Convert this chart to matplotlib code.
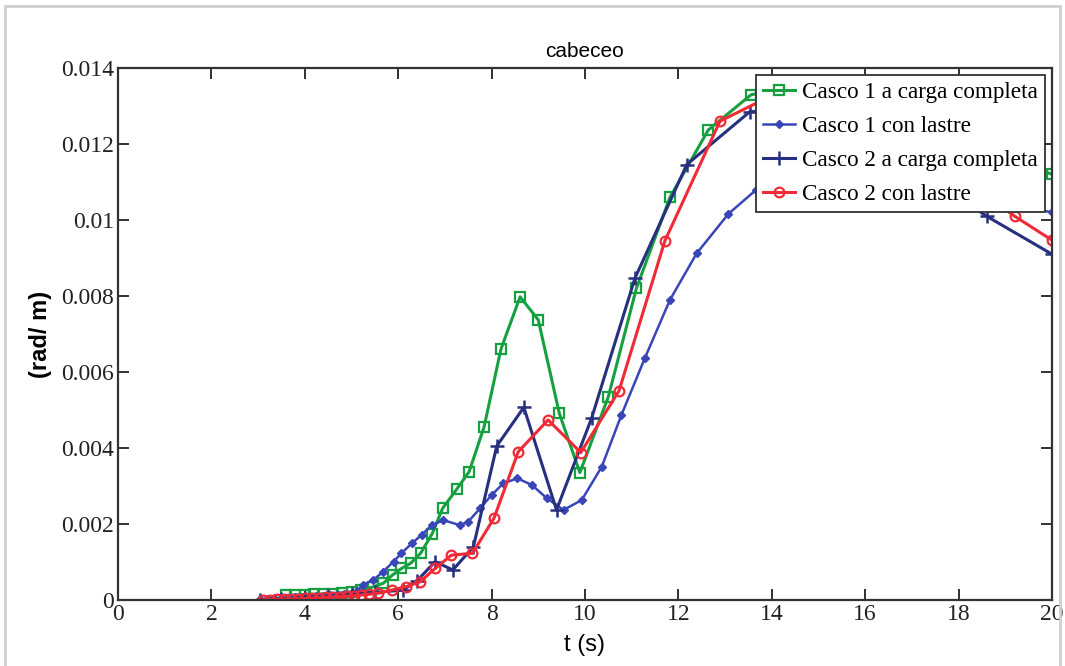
import numpy as np
import matplotlib
matplotlib.use('Agg')
import matplotlib.pyplot as plt
from matplotlib.patches import Rectangle

# Casco 1 a carga completa (green, squares)
t_c1_full = [3.6, 3.8, 4.0, 4.2, 4.4, 4.6, 4.8, 5.0, 5.2, 5.45, 5.68, 5.88, 6.07, 6.27, 6.48,
             6.73, 6.95, 7.25, 7.52, 7.84, 8.2, 8.61, 9.0, 9.45, 9.89, 10.5, 11.1, 11.82,
             12.64, 13.55, 14.5, 15.5, 16.6, 17.7, 18.8, 20.0]
v_c1_full = [0.00012, 0.00013, 0.00014, 0.00015, 0.00016, 0.00017, 0.00019, 0.00021, 0.00026,
             0.00034, 0.00044, 0.00066, 0.00083, 0.00097, 0.00123, 0.00175, 0.00241, 0.00291,
             0.00338, 0.00456, 0.0066, 0.00798, 0.00737, 0.00491, 0.00335, 0.00535, 0.0082,
             0.0106, 0.01237, 0.01329, 0.0136, 0.0135, 0.0131, 0.0125, 0.0118, 0.0112]

# Casco 1 con lastre (blue, small diamonds)
t_c1_last = [3.04, 3.2, 3.35, 3.5, 3.65, 3.8, 3.95, 4.1, 4.25, 4.4, 4.55, 4.7, 4.85, 5.0, 5.12,
             5.25, 5.47, 5.68, 5.9, 6.07, 6.29, 6.5, 6.72, 6.97, 7.32, 7.5, 7.75, 8.0, 8.25,
             8.55, 8.86, 9.18, 9.54, 9.93, 10.36, 10.78, 11.28, 11.82, 12.39, 13.07, 13.67,
             14.4, 15.3, 16.3, 17.3, 18.4, 19.2, 20.0]
v_c1_last = [0.00002, 0.00003, 0.00004, 0.00005, 0.00006, 0.00007, 0.00008, 0.00009, 0.0001,
             0.00011, 0.00012, 0.00014, 0.00016, 0.00019, 0.00024, 0.0004, 0.00053, 0.00075,
             0.00101, 0.00123, 0.00149, 0.00171, 0.00197, 0.0021, 0.00197, 0.00206, 0.00241,
             0.00276, 0.00307, 0.0032, 0.00303, 0.00268, 0.00237, 0.00263, 0.00351, 0.00487,
             0.00636, 0.0079, 0.00912, 0.01016, 0.0108, 0.0112, 0.0113, 0.0112, 0.011, 0.0106,
             0.0104, 0.0102]

# Casco 2 a carga completa (navy, plus)
t_c2_full = [3.04, 3.5, 4.0, 4.5, 5.0, 5.5, 6.1, 6.4, 6.79, 7.17, 7.61, 8.11, 8.69, 9.39,
             10.14, 11.07, 12.18, 13.53, 15.0, 16.8, 18.6, 20.0]
v_c2_full = [0.00001, 0.00003, 0.00006, 0.0001, 0.00015, 0.0002, 0.00026, 0.0005, 0.00101,
             0.00079, 0.0014, 0.00405, 0.00507, 0.00237, 0.00478, 0.00847, 0.01146, 0.01285,
             0.0129, 0.0116, 0.0101, 0.0091]

# Casco 2 con lastre (red, circles)
t_c2_last = [3.1, 3.25, 3.4, 3.55, 3.7, 3.85, 4.0, 4.15, 4.3, 4.45, 4.6, 4.75, 4.9, 5.05, 5.2,
             5.37, 5.57, 5.86, 6.16, 6.47, 6.79, 7.14, 7.59, 8.05, 8.57, 9.21, 9.91, 10.73,
             11.71, 12.89, 14.2, 15.6, 17.0, 18.4, 19.2, 20.0]
v_c2_last = [0.00001, 0.00001, 0.00002, 0.00002, 0.00003, 0.00003, 0.00004, 0.00005, 0.00006,
             0.00007, 0.00008, 0.00009, 0.0001, 0.00011, 0.00013, 0.00015, 0.00018, 0.00026,
             0.00035, 0.00048, 0.00083, 0.00118, 0.00123, 0.00215, 0.0039, 0.00474, 0.00388,
             0.00551, 0.00945, 0.0126, 0.0134, 0.0131, 0.0121, 0.0108, 0.0101, 0.00947]

labels = ['Casco 1 a carga completa', 'Casco 1 con lastre',
          'Casco 2 a carga completa', 'Casco 2 con lastre']
xticks = [0, 2, 4, 6, 8, 10, 12, 14, 16, 18, 20]
yticks = [0, 0.002, 0.004, 0.006, 0.008, 0.01, 0.012, 0.014]
ytick_labels = ['0', '0.002', '0.004', '0.006', '0.008', '0.01', '0.012', '0.014']

fig = plt.figure(figsize=(10.65, 6.66), dpi=100)
ax = fig.add_axes([118/1065, 1 - 600/666, (1052-118)/1065, (600-68)/666])

ax.plot(t_c1_full, v_c1_full, '-s', color='#16a040', lw=2.2, ms=7, mfc='none', mew=1.6, label=labels[0])
ax.plot(t_c1_last, v_c1_last, '-D', color='#3846b8', lw=1.8, ms=4, label=labels[1])
ax.plot(t_c2_full, v_c2_full, '-+', color='#27307e', lw=2.2, ms=10, mew=1.8, label=labels[2])
ax.plot(t_c2_last, v_c2_last, '-o', color='#f02a36', lw=2.2, ms=7, mfc='none', mew=1.6, label=labels[3])

ax.set_xlim(0, 20)
ax.set_ylim(0, 0.014)
ax.set_xticks(xticks)
ax.set_yticks(yticks)
ax.set_yticklabels(ytick_labels)
ax.tick_params(direction='in', length=8, width=1.3, top=True, right=True,
               labelsize=17, colors='#222222', pad=3)
for lab in ax.get_xticklabels() + ax.get_yticklabels():
    lab.set_family('Liberation Serif')
for sp in ax.spines.values():
    sp.set_linewidth(1.6)
    sp.set_color('#333333')

ax.set_title('cabeceo', fontsize=15, family='Liberation Sans', pad=8)
ax.set_xlabel('t (s)', fontsize=17, family='Liberation Sans', labelpad=6)
ax.set_ylabel('(rad/ m)', fontsize=17, family='Liberation Sans', fontweight='bold', labelpad=6)

leg = ax.legend(loc='upper right', prop={'family': 'Liberation Serif', 'size': 16.7},
                fancybox=False, framealpha=1, edgecolor='#333333', borderaxespad=0.3,
                handlelength=1.4, handletextpad=0.3, labelspacing=0.55, borderpad=0.3)
leg.get_frame().set_linewidth(1.3)

# light grey outer frame
fig.patches.append(Rectangle((5/1065, -0.02), 1055/1065, 1.02 - 6/666, transform=fig.transFigure,
                             fill=False, edgecolor='#cfcfcf', lw=2))

fig.savefig('out.png', dpi=100)
